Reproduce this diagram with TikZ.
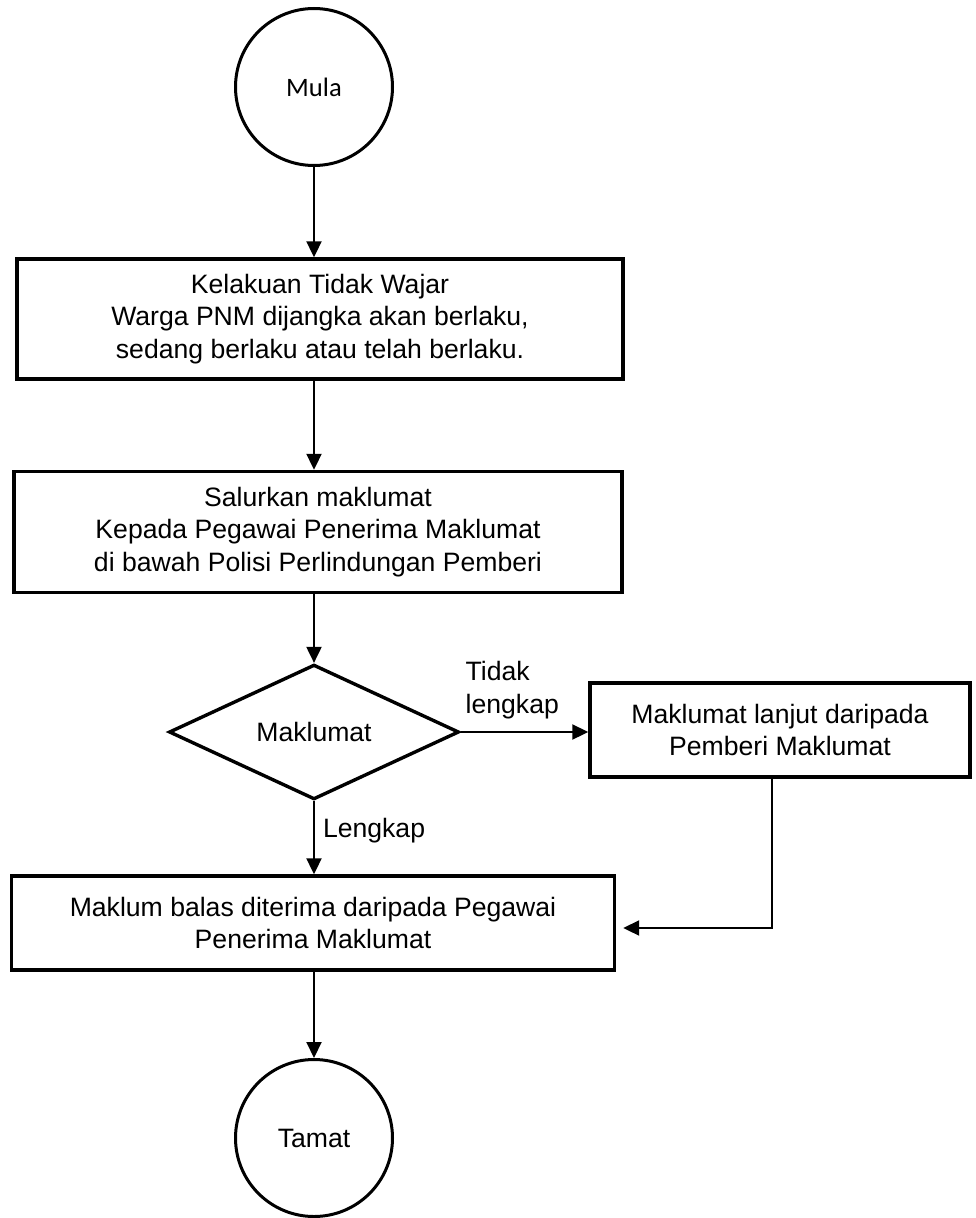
\documentclass[tikz,border=0pt]{standalone}
\usepackage{fontspec}
\setmainfont{Liberation Sans}
\newfontfamily\calibrifont{Carlito}
\usetikzlibrary{arrows.meta,shapes.geometric}

\begin{document}
\begin{tikzpicture}[x=1pt, y=-1pt, line width=2pt,
  flow/.style={-{Triangle[length=16pt,width=15pt]}},
  end node/.style={circle,draw,line width=3pt,minimum size=157pt,inner sep=0pt},
  box node/.style={rectangle,draw,line width=3.4pt,align=center,inner sep=0pt},
  test node/.style={diamond,draw,line width=3.4pt,minimum width=290pt,minimum height=98pt,inner sep=0pt},
  every node/.style={font=\fontsize{26.6}{32.5}\selectfont}]
\useasboundingbox (0,0) rectangle (975,1218);
\begin{scope}
\node[end node] (mula) at (314,87) {\calibrifont Mula};
\node[box node,minimum width=606pt,minimum height=120pt] (kelakuan) at (320,319)
  {Kelakuan Tidak Wajar\\Warga PNM dijangka akan berlaku,\\sedang berlaku atau telah berlaku.};
\node[box node,minimum width=608pt,minimum height=121pt] (salurkan) at (318,532)
  {Salurkan maklumat\\Kepada Pegawai Penerima Maklumat\\di bawah Polisi Perlindungan Pemberi};
\node[test node] (maklumat) at (314,732) {Maklumat};
\node[box node,minimum width=380pt,minimum height=94pt] (lanjut) at (780,730)
  {Maklumat lanjut daripada\\Pemberi Maklumat};
\node[box node,minimum width=603pt,minimum height=94pt] (balas) at (313,923)
  {Maklum balas diterima daripada Pegawai\\Penerima Maklumat};
\node[end node] (tamat) at (314,1138) {Tamat};
\end{scope}
%connectors
\draw [flow] (mula) -- (mula |- kelakuan.north);
\draw [flow] (mula |- kelakuan.south) -- (mula |- salurkan.north);
\draw [flow] (mula |- salurkan.south) -- (maklumat.north);
\draw [flow] (maklumat.east) -- (maklumat.east -| lanjut.west)
  node[pos=0,anchor=south west,align=left,inner sep=0pt,xshift=4pt,yshift=12pt] {Tidak\\lengkap};
\draw [flow] (maklumat.south) -- (maklumat.south |- balas.north)
  node[pos=.5,anchor=base west,inner sep=0pt,xshift=8pt] {Lengkap};
\draw [flow,shorten >=7pt] ([xshift=-8pt]lanjut.south) |- ([yshift=-5pt]balas.east);
\draw [flow] (mula |- balas.south) -- (tamat.north);
\end{tikzpicture}
\end{document}
